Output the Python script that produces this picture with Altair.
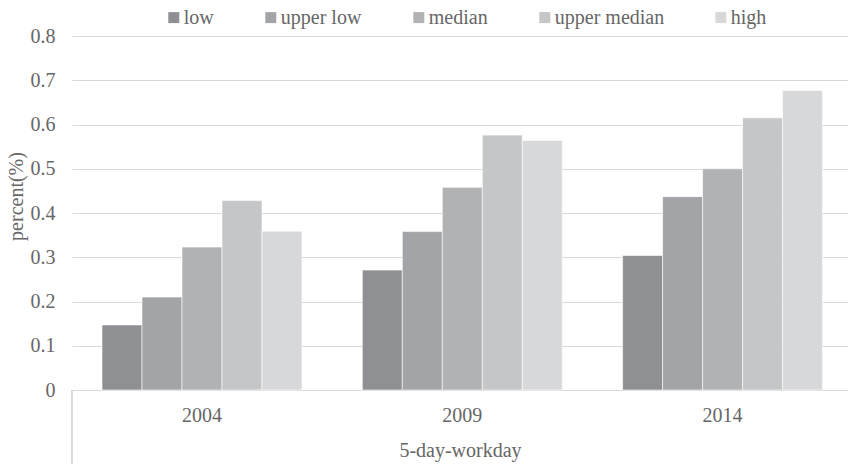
import altair as alt
import pandas as pd

# Share of each income group, by survey year (5-day workday)
years = ["2004", "2009", "2014"]
groups = ["low", "upper low", "median", "upper median", "high"]
low = [0.147, 0.271, 0.304]
upper_low = [0.210, 0.358, 0.437]
median = [0.323, 0.458, 0.500]
upper_median = [0.428, 0.576, 0.615]
high = [0.359, 0.564, 0.677]
colors = ["#8f9094", "#a3a4a7", "#b1b2b4", "#c5c6c8", "#d7d8da"]

series = [low, upper_low, median, upper_median, high]
rows = []
for g, vals in zip(groups, series):
    for y, v in zip(years, vals):
        rows.append({"year": y, "group": g, "value": v})
df = pd.DataFrame(rows)

FONT = "Liberation Serif"
TEXT = "#666666"
GRID = "#d9d9d9"
W, H = 776, 354

bars = alt.Chart(df).mark_bar(stroke="white", strokeWidth=0.6).encode(
    x=alt.X(
        "year:N",
        sort=years,
        scale=alt.Scale(paddingInner=0.2317, paddingOuter=0.1065, align=0.5415),
        axis=alt.Axis(
            title="5-day-workday",
            labelAngle=0,
            ticks=False,
            labelPadding=15,
            domainColor=GRID,
            domainWidth=1,
            titleY=66,
            titleBaseline="alphabetic",
            titleFontWeight="normal",
        ),
    ),
    xOffset=alt.XOffset("group:N", sort=groups,
                        scale=alt.Scale(paddingInner=0, paddingOuter=0)),
    y=alt.Y(
        "value:Q",
        scale=alt.Scale(domain=[0, 0.8], nice=False, zero=True),
        axis=alt.Axis(
            title="percent(%)",
            values=[0, 0.1, 0.2, 0.3, 0.4, 0.5, 0.6, 0.7, 0.8],
            format=".1~f",
            domain=False,
            ticks=False,
            labelPadding=17,
            gridColor=GRID,
            gridWidth=1,
            titleX=-55.6,
            titleY=160,
            titleAlign="center",
            titleBaseline="middle",
            titleAngle=270,
            titleFontWeight="normal",
        ),
    ),
    color=alt.Color(
        "group:N",
        sort=groups,
        scale=alt.Scale(domain=groups, range=colors),
        legend=alt.Legend(
            title=None,
            orient="none",
            direction="horizontal",
            columns=5,
            legendX=87.3,
            legendY=-28.4,
            symbolType="square",
            symbolSize=121,
            symbolStrokeWidth=0,
            symbolOffset=4.5,
            labelOffset=0,
            columnPadding=42,
            labelFont=FONT,
            labelFontSize=20,
            labelColor=TEXT,
            padding=0,
        ),
    ),
)

# vertical separator at the left of the category axis
edge = alt.Chart(df).mark_rule(color=GRID, strokeWidth=1).encode(
    x=alt.value(0), y=alt.value(H), y2=alt.value(H + 80)
)

chart = (
    alt.layer(bars, edge)
    .properties(
        width=W,
        height=H,
        autosize=alt.AutoSizeParams(type="none"),
        padding={"left": 72, "top": 36, "right": 0, "bottom": 74},
        background="white",
    )
    .configure(font=FONT)
    .configure_view(stroke=None)
    .configure_axis(
        labelFont=FONT,
        labelFontSize=20,
        labelColor=TEXT,
        titleFont=FONT,
        titleFontSize=20,
        titleColor=TEXT,
    )
    .configure_legend(
        labelFont=FONT,
        labelFontSize=20,
        labelColor=TEXT,
    )
)

chart.save("out.html", embed_options={"renderer": "svg", "actions": False})
